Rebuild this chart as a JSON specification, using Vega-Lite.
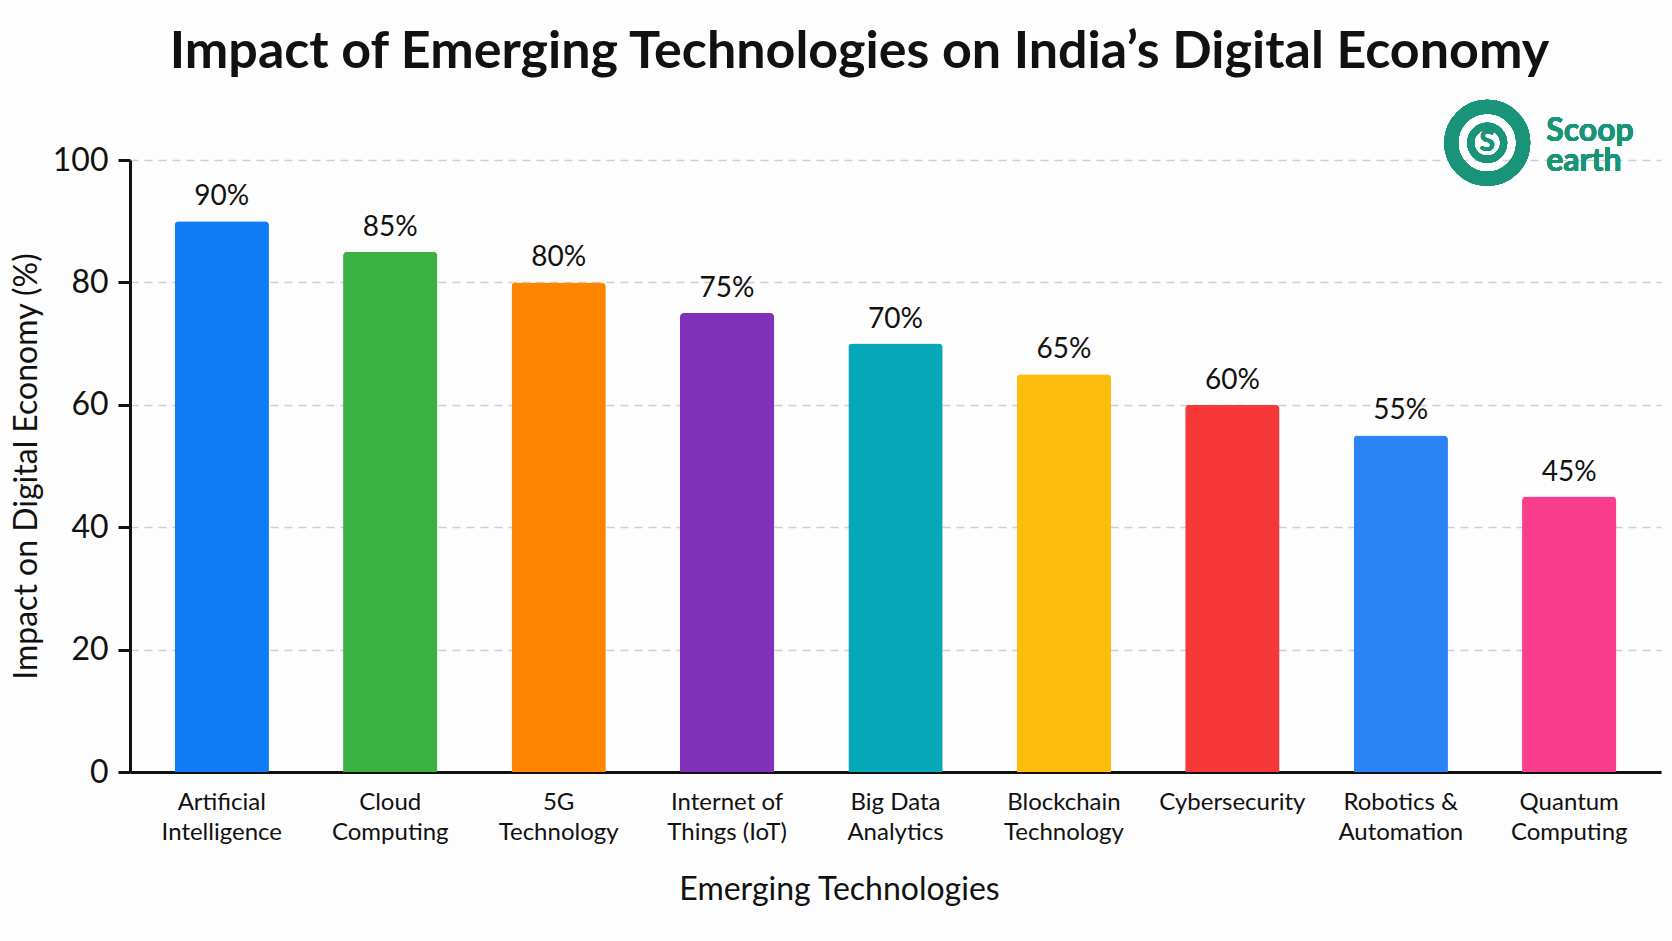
{
  "$schema": "https://vega.github.io/schema/vega-lite/v6.json",
  "autosize": {"type": "none"},
  "padding": {"left": 130, "top": 160, "right": 11, "bottom": 169},
  "width": 1531,
  "height": 612,
  "background": "#fdfdfd",
  "title": {
    "text": "Impact of Emerging Technologies on India’s Digital Economy",
    "fontSize": 52,
    "fontWeight": "bold",
    "font": "Lato",
    "color": "#111111",
    "anchor": "middle",
    "frame": "group",
    "dx": -36,
    "offset": 0
  },
  "data": {
    "values": [
      {"tech": "Artificial Intelligence", "value": 90, "label": "90%"},
      {"tech": "Cloud Computing", "value": 85, "label": "85%"},
      {"tech": "5G Technology", "value": 80, "label": "80%"},
      {"tech": "Internet of Things (IoT)", "value": 75, "label": "75%"},
      {"tech": "Big Data Analytics", "value": 70, "label": "70%"},
      {"tech": "Blockchain Technology", "value": 65, "label": "65%"},
      {"tech": "Cybersecurity", "value": 60, "label": "60%"},
      {"tech": "Robotics & Automation", "value": 55, "label": "55%"},
      {"tech": "Quantum Computing", "value": 45, "label": "45%"}
    ]
  },
  "encoding": {
    "x": {
      "field": "tech",
      "type": "nominal",
      "sort": null,
      "title": "Emerging Technologies",
      "scale": {"paddingInner": 0.44, "paddingOuter": 0.265},
      "axis": {
        "labelAngle": 0,
        "labelFontSize": 24,
        "labelLineHeight": 30,
        "labelPadding": 18,
        "labelColor": "#111111",
        "ticks": false,
        "domainColor": "#111111",
        "domainWidth": 3,
        "titleFontSize": 32,
        "titleFontWeight": "normal",
        "titleColor": "#111111",
        "titlePadding": 30,
        "titleX": 709,
        "labelExpr": "datum.label == 'Internet of Things (IoT)' ? ['Internet of', 'Things (IoT)'] : datum.label == 'Robotics & Automation' ? ['Robotics &', 'Automation'] : datum.label == 'Big Data Analytics' ? ['Big Data', 'Analytics'] : split(datum.label, ' ')"
      }
    },
    "y": {
      "field": "value",
      "type": "quantitative",
      "title": "Impact on Digital Economy (%)",
      "scale": {"domain": [0, 100], "nice": false},
      "axis": {
        "values": [0, 20, 40, 60, 80, 100],
        "labelFontSize": 32,
        "labelColor": "#111111",
        "labelPadding": 10,
        "tickSize": 12,
        "tickWidth": 3,
        "tickColor": "#111111",
        "domainColor": "#111111",
        "domainWidth": 3,
        "grid": true,
        "gridColor": "#cfcfcf",
        "gridDash": [8, 6],
        "gridWidth": 1.5,
        "titleFontSize": 32,
        "titleFontWeight": "normal",
        "titleColor": "#111111",
        "titlePadding": 9
      }
    }
  },
  "layer": [
    {
      "mark": {"type": "bar", "cornerRadiusTopLeft": 4, "cornerRadiusTopRight": 4},
      "encoding": {
        "color": {
          "field": "tech",
          "type": "nominal",
          "legend": null,
          "sort": null,
          "scale": {
            "domain": ["Artificial Intelligence", "Cloud Computing", "5G Technology", "Internet of Things (IoT)", "Big Data Analytics", "Blockchain Technology", "Cybersecurity", "Robotics & Automation", "Quantum Computing"],
            "range": ["#0f7bf4", "#3bb143", "#ff8500", "#8131b9", "#06a7b6", "#fdbd0a", "#f73838", "#2b84f5", "#fb3d8d"]
          }
        }
      }
    },
    {
      "mark": {"type": "text", "baseline": "alphabetic", "dy": -16, "fontSize": 28, "font": "Lato", "color": "#111111"},
      "encoding": {"text": {"field": "label"}}
    },
    {
      "mark": {"type": "point", "shape": "circle", "filled": false, "size": 5184, "strokeWidth": 14, "color": "#1a9478", "opacity": 1, "xOffset": -82},
      "encoding": {"x": {"datum": "Quantum Computing"}, "y": {"datum": 102.8}}
    },
    {
      "mark": {"type": "point", "shape": "circle", "filled": false, "size": 1089, "strokeWidth": 7, "color": "#1a9478", "opacity": 1, "xOffset": -82},
      "encoding": {"x": {"datum": "Quantum Computing"}, "y": {"datum": 102.8}}
    },
    {
      "mark": {"type": "text", "text": "S", "fontSize": 28, "fontWeight": "bold", "font": "Lato", "color": "#1a9478", "align": "center", "baseline": "middle", "dx": -82},
      "encoding": {"x": {"datum": "Quantum Computing"}, "y": {"datum": 102.8}}
    },
    {
      "mark": {"type": "text", "text": "Scoop", "fontSize": 32, "fontWeight": "bold", "font": "Lato", "color": "#1a9478", "align": "left", "baseline": "middle", "dx": -23},
      "encoding": {"x": {"datum": "Quantum Computing"}, "y": {"datum": 104.8}}
    },
    {
      "mark": {"type": "text", "text": "earth", "fontSize": 32, "fontWeight": "bold", "font": "Lato", "color": "#1a9478", "align": "left", "baseline": "middle", "dx": -23},
      "encoding": {"x": {"datum": "Quantum Computing"}, "y": {"datum": 99.8}}
    }
  ],
  "config": {
    "font": "Lato",
    "view": {"stroke": null}
  }
}
